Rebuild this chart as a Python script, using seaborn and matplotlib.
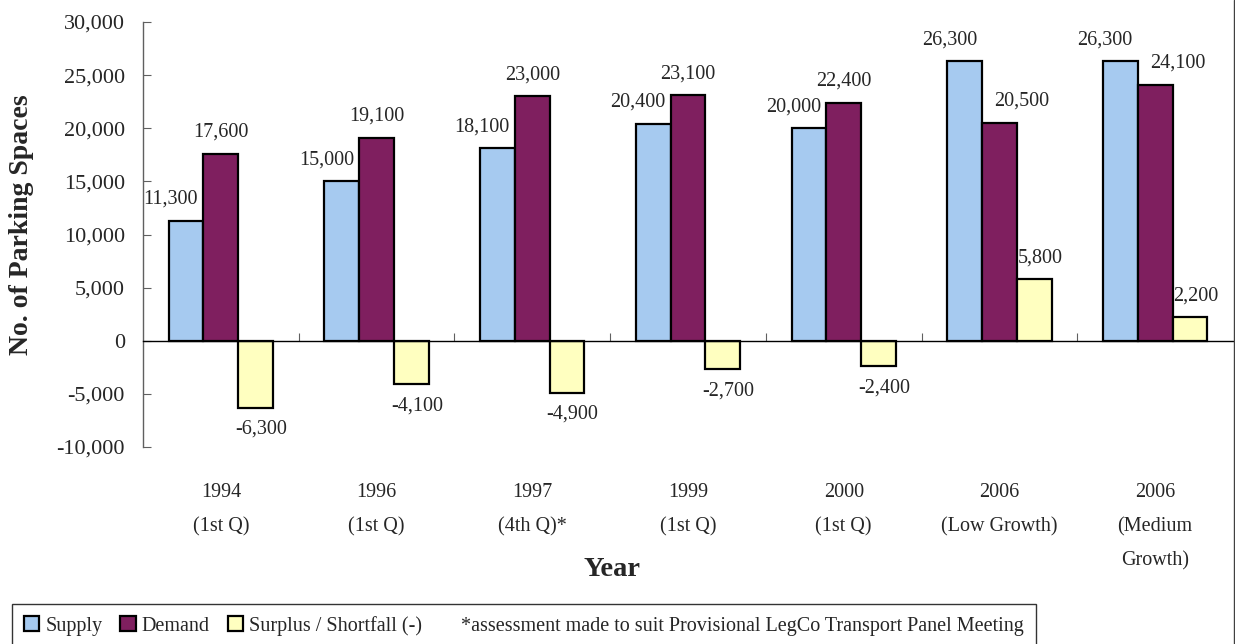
import numpy as np
import pandas as pd
import seaborn as sns
import matplotlib.pyplot as plt
from matplotlib.patches import Patch
from matplotlib.lines import Line2D

# chart data
years = ["1994\n(1st Q)", "1996\n(1st Q)", "1997\n(4th Q)*", "1999\n(1st Q)",
         "2000\n(1st Q)", "2006\n(Low Growth)", "2006\n(Medium\nGrowth)"]
series = ["Supply", "Demand", "Surplus / Shortfall (-)"]
supply = [11300, 15000, 18100, 20400, 20000, 26300, 26300]
demand = [17600, 19100, 23000, 23100, 22400, 20500, 24100]
surplus = [-6300, -4100, -4900, -2700, -2400, 5800, 2200]
colors = ["#A6CAF0", "#7F1F5F", "#FFFFC0"]
footnote = "*assessment made to suit Provisional LegCo Transport Panel Meeting"

def configStyle():
    sns.set_style("white")
    plt.rcParams['font.family'] = ['Liberation Serif', 'DejaVu Serif']
    return True

def buildFrame():
    rows = []
    for name, vals in zip(series, [supply, demand, surplus]):
        for y, v in zip(years, vals):
            rows.append({"Year": y, "Series": name, "Spaces": v})
    return pd.DataFrame(rows)

def plotParking(df):
    fig = plt.figure(figsize=(12.35, 6.44), dpi=100)
    ax = fig.add_axes([143/1235, 1-447/644, 1090/1235, 425/644])

    sns.barplot(data=df, x="Year", y="Spaces", hue="Series", order=years,
                hue_order=series, palette=colors, edgecolor="black",
                linewidth=1.6, width=0.67, saturation=1, legend=False, ax=ax)

    # value labels (demand label moves right when it would hit the supply label)
    for k, (cont, vals) in enumerate(zip(ax.containers, [supply, demand, surplus])):
        for i, (bar, v) in enumerate(zip(cont, vals)):
            x = bar.get_x() + bar.get_width() / 2
            sgn = 1 if v >= 0 else -1
            if k == 0:
                dx = -11
            elif k == 1:
                dx = 16 if demand[i] < supply[i] + 1500 and demand[i] < 24500 else 0
            else:
                dx = 4
            ax.annotate(f"{v:,}", (x, v), xytext=(dx, sgn * 15.5),
                        textcoords="offset points", ha="center", va="center",
                        fontsize=14.5)

    ax.set_ylim(-10000, 30000)
    ax.set_xlim(-0.5, len(years) - 0.5)
    ax.set_yticks(np.arange(-10000, 30001, 5000))
    ax.set_yticklabels([f"{t:,}" for t in range(-10000, 30001, 5000)], fontsize=16)
    ax.set_xticks(np.arange(0.5, len(years) - 0.5, 1))
    ax.set_xticklabels([])

    for s in ["top", "right"]:
        ax.spines[s].set_visible(False)
    ax.spines["bottom"].set_position(("data", 0))
    ax.spines["bottom"].set_color("black")
    ax.spines["bottom"].set_linewidth(1)
    ax.spines["left"].set_color("#606060")
    ax.spines["left"].set_linewidth(1)
    ax.tick_params(axis="y", direction="in", length=6, color="#606060", pad=13, left=True)
    ax.tick_params(axis="x", direction="in", length=6, color="#606060", bottom=True)

    # category labels below the plot
    for i, y in enumerate(years):
        ax.text(i, -0.085, y, transform=ax.get_xaxis_transform(), ha="center",
                va="top", fontsize=14.5, linespacing=2.05)

    ax.set_xlabel("Year", fontsize=20.5, fontweight="bold")
    ax.xaxis.set_label_coords((612-143)/1090, (447-557)/425)
    ax.set_ylabel("No. of Parking Spaces", fontsize=20, fontweight="bold")
    ax.yaxis.set_label_coords((34-143)/1090, (447-225)/425)

    handles = [Patch(facecolor=c, edgecolor="black", linewidth=1.6) for c in colors]
    handles.append(Patch(facecolor="none", edgecolor="none"))
    leg = fig.legend(handles, series + [footnote], loc="lower left",
                     bbox_to_anchor=(12/1235, -0.006), ncol=4, fontsize=14.5,
                     frameon=True, fancybox=False, handlelength=0.75,
                     handleheight=0.75, handletextpad=0.3, columnspacing=0.9,
                     borderpad=0.6, borderaxespad=0)
    leg.get_frame().set_edgecolor("black")
    leg.get_frame().set_linewidth(1)

    fig.add_artist(Line2D([1233.5/1235, 1233.5/1235], [0, 1], transform=fig.transFigure,
                          color="#404040", lw=1))
    plt.savefig("out.png", dpi=100)

configStyle()
plotParking(buildFrame())
